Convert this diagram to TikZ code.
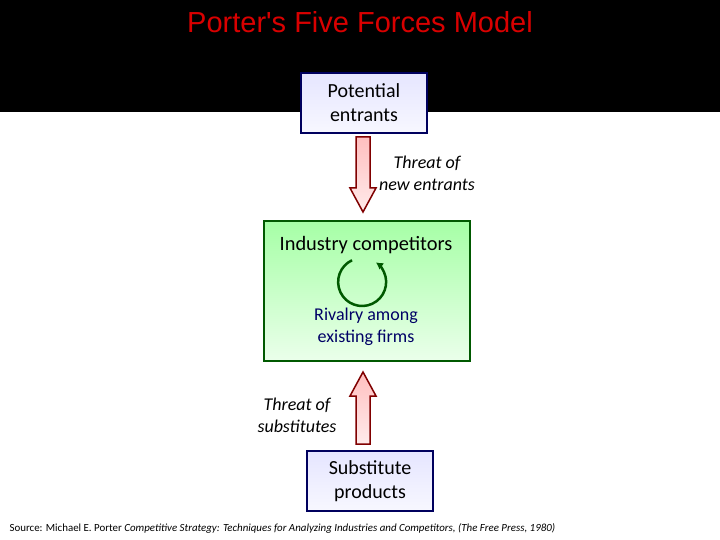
\documentclass[tikz,border=0pt]{standalone}
\usepackage{fontspec}
\setmainfont{Carlito}
\newfontfamily\arialf{Liberation Sans}
\usetikzlibrary{arrows.meta}
\begin{document}
\begin{tikzpicture}[x=1pt,y=-1pt,
  bluebox/.style={draw=blue!30!black!90!blue, line width=2pt, top color=blue!10, bottom color=blue!3, minimum width=126pt, minimum height=60pt, align=center, font=\fontsize{20}{24}\selectfont, text=black, anchor=north west},
  bigarrow/.style={draw=red!50!black, line width=1.5pt, top color=red!25, bottom color=red!8},
  lbl/.style={align=center, font=\itshape\fontsize{18}{22}\selectfont}]
\useasboundingbox (0,0) rectangle (720,540);
\fill[white] (0,0) rectangle (720,540);
\fill[black] (0,0) rectangle (720,112);
\node[font=\arialf\fontsize{29}{32}\selectfont, text=red!85!black] (title) at (360,22) {Porter's Five Forces Model};
\node[bluebox] (pe) at (300,72) {Potential\\entrants};
\node[anchor=north west, draw=green!35!black, line width=2pt, top color=green!35!white, bottom color=green!8!white, minimum width=206pt, minimum height=140pt] (ic) at (263,220) {};
\node[font=\fontsize{20.4}{22}\selectfont] (ict) at (366,245) {Industry competitors};
\node[align=center, text=blue!40!black, font=\fontsize{18}{22}\selectfont] (riv) at (366,327) {Rivalry among\\existing firms};
\draw[green!35!black, line width=2.5pt, -{Latex[length=7pt,width=8pt]}] (352,260.25) arc[start angle=245, end angle=-55, radius=24];
\node[bluebox] (sp) at (306,450) {Substitute\\products};
\draw[bigarrow] (356,137) -- (370,137) -- (370,188) -- (376,188) -- (363,212) -- (350,188) -- (356,188) -- cycle;
\draw[bigarrow] (356,444) -- (370,444) -- (370,396) -- (376,396) -- (363,372) -- (350,396) -- (356,396) -- cycle;
\node[lbl] (tne) at (427,173) {Threat of\\new entrants};
\node[lbl] (ts) at (297,415) {Threat of\\substitutes};
\node[anchor=west, font=\fontsize{10.9}{12}\selectfont] (src) at (6,528) {Source: Michael E. Porter \textit{Competitive Strategy: Techniques for Analyzing Industries and Competitors, (The Free Press, 1980)}};
\end{tikzpicture}
\end{document}
